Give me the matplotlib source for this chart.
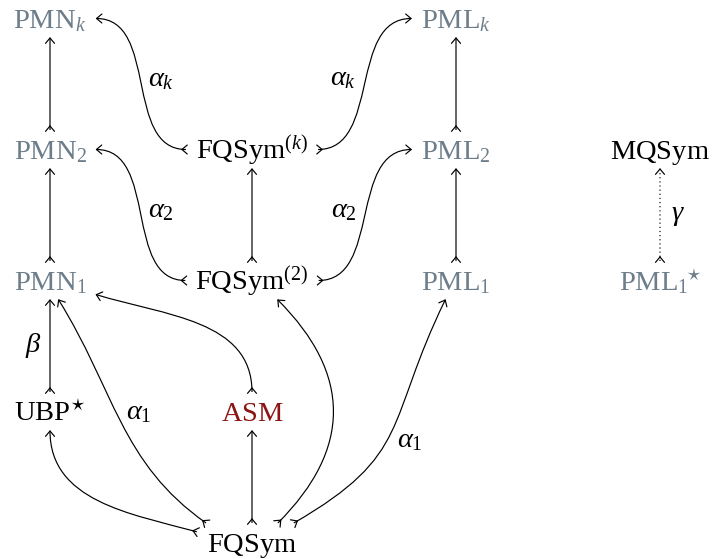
import numpy as np
import matplotlib.pyplot as plt
from matplotlib.path import Path
from matplotlib.patches import PathPatch

plt.rcParams['font.family'] = ['Liberation Serif', 'DejaVu Serif']
plt.rcParams['mathtext.fontset'] = 'custom'
plt.rcParams['mathtext.rm'] = 'Liberation Serif'
plt.rcParams['mathtext.it'] = 'Liberation Serif:italic'
plt.rcParams['mathtext.bf'] = 'Liberation Serif:bold'

# objects of the diagram, placed on a tikz-cd like grid (column, row)
node_keys = ['PMNk', 'PMN2', 'PMN1', 'UBP', 'FQk', 'FQ2', 'ASM', 'FQ',
             'PMLk', 'PML2', 'PML1', 'MQ', 'PML1s']
node_text = [r'$\mathrm{PMN}_k$', r'$\mathrm{PMN}_2$', r'$\mathrm{PMN}_1$',
             r'$\mathrm{UBP}^{\!\star}$', r'$\mathrm{FQSym}^{(k)}$',
             r'$\mathrm{FQSym}^{(2)}$', r'$\mathrm{ASM}$', r'$\mathrm{FQSym}$',
             r'$\mathrm{PML}_k$', r'$\mathrm{PML}_2$', r'$\mathrm{PML}_1$',
             r'$\mathrm{MQSym}$', r'$\mathrm{PML}_1{}^{\!\!\star}$']
node_col = [0, 0, 0, 0, 1, 1, 1, 1, 2, 2, 2, 3, 3]
node_row = [0, 1, 2, 3, 1, 2, 3, 4, 0, 1, 2, 1, 2]
node_kind = ['poly', 'poly', 'poly', 'plain', 'plain', 'plain', 'asm', 'plain',
             'poly', 'poly', 'poly', 'plain', 'poly']

# morphisms: source -> target, label
edge_src = ['PMN2', 'PMN1', 'UBP', 'PML2', 'PML1', 'FQ2', 'FQ', 'PML1s',
            'FQk', 'FQk', 'FQ2', 'FQ2', 'FQ', 'FQ', 'ASM', 'FQ', 'FQ']
edge_dst = ['PMNk', 'PMN2', 'PMN1', 'PMLk', 'PML2', 'FQk', 'ASM', 'MQ',
            'PMNk', 'PMLk', 'PMN2', 'PML2', 'UBP', 'PMN1', 'PMN1', 'FQ2', 'PML1']
edge_label = ['', '', r'$\beta$', '', '', '', '', r'$\gamma$',
              r'$\alpha_k$', r'$\alpha_k$', r'$\alpha_2$', r'$\alpha_2$',
              '', r'$\alpha_1$', '', '', r'$\alpha_1$']
edge_dotted = [False] * 7 + [True] + [False] * 9

# routing (anchor out, out, anchor in, in, looseness, label offset; +left)
up = (90, 90, -90, -90, 1.0)
route = [up + (0,), up + (0,), up + (17,), up + (0,), up + (0,), up + (0,),
         up + (0,), up + (-18,),
         (180, 180, 0, 0, 1.0, -20), (0, 0, 180, 180, 1.0, 22),
         (180, 180, 0, 0, 1.0, -20), (0, 0, 180, 180, 1.0, 22),
         (169, 165, -90, -90, 1.0, 0),
         (157, 145, -66, -58, 1.0, -20),
         (90, 90, -17, -17, 1.0, 0),
         (37, 45, -37, -45, 1.2, 0),
         (25, 30, -119, -116, 1.3, -20)]

colours = {'poly': '#6d7d8a', 'plain': 'black', 'asm': '#8c1414'}
FS = 20.5
col_x = [50, 252, 456, 660]
row_base = [28, 159, 290, 421, 552]

fig = plt.figure(figsize=(7.12, 5.59), dpi=100)
ax = fig.add_axes([0, 0, 1, 1])
ax.set_xlim(0, 712)
ax.set_ylim(559, 0)
ax.axis('off')

texts = {}
for k, t, c, r, kind in zip(node_keys, node_text, node_col, node_row, node_kind):
    texts[k] = ax.text(col_x[c], row_base[r], t, ha='center', va='baseline',
                       fontsize=FS, color=colours[kind])

fig.canvas.draw()
renderer = fig.canvas.get_renderer()
inv = ax.transData.inverted()
boxes = {}
for k, c, r in zip(node_keys, node_col, node_row):
    bb = texts[k].get_window_extent(renderer)
    (x0, _), (x1, _) = inv.transform([[bb.x0, bb.y0], [bb.x1, bb.y1]])
    top = row_base[r] - 29
    bot = row_base[r] + 10
    boxes[k] = ((x0 + x1) / 2, (top + bot) / 2, (x1 - x0) / 2 + 10, (bot - top) / 2)


def vec(a):
    a = np.radians(a)
    return np.array([np.cos(a), -np.sin(a)])


def border(box, a):
    cx, cy, hw, hh = box
    d = vec(a)
    tx = hw / abs(d[0]) if abs(d[0]) > 1e-9 else np.inf
    ty = hh / abs(d[1]) if abs(d[1]) > 1e-9 else np.inf
    return np.array([cx, cy]) + min(tx, ty) * d


def tip(p, u, lw, back=0.0):
    L, th = 7.0, np.radians(40)
    apex = p + u * back
    for s in (1, -1):
        rot = np.array([[np.cos(s * th), -np.sin(s * th)],
                        [np.sin(s * th), np.cos(s * th)]])
        q = apex - L * rot @ u
        ax.plot([apex[0], q[0]], [apex[1], q[1]], color='black', lw=lw,
                solid_capstyle='round')


LW = 0.85
for s, d, lab, dot, (ao, o, ai, i, loose, off) in zip(
        edge_src, edge_dst, edge_label, edge_dotted, route):
    p0 = border(boxes[s], ao)
    p3 = border(boxes[d], ai)
    dist = 0.3915 * loose * np.hypot(*(p3 - p0))
    c1 = p0 + dist * vec(o)
    c2 = p3 + dist * vec(i)
    path = Path([p0, c1, c2, p3], [Path.MOVETO, Path.CURVE4, Path.CURVE4, Path.CURVE4])
    ax.add_patch(PathPatch(path, fill=False, lw=LW, color='black',
                           linestyle=(0, (1, 2.5)) if dot else '-'))
    tip(p3, -vec(i), LW)
    tip(p0, vec(o), LW, back=4.0)
    if lab:
        tt = 0.5
        m = (1 - tt) ** 3 * p0 + 3 * (1 - tt) ** 2 * tt * c1 + 3 * (1 - tt) * tt ** 2 * c2 + tt ** 3 * p3
        der = 3 * (1 - tt) ** 2 * (c1 - p0) + 6 * (1 - tt) * tt * (c2 - c1) + 3 * tt ** 2 * (p3 - c2)
        u = der / np.hypot(*der)
        n = np.array([u[1], -u[0]])
        pos = m + off * n
        ax.text(pos[0], pos[1], lab, ha='center', va='center', fontsize=FS)

fig.savefig('out.png', dpi=100)
